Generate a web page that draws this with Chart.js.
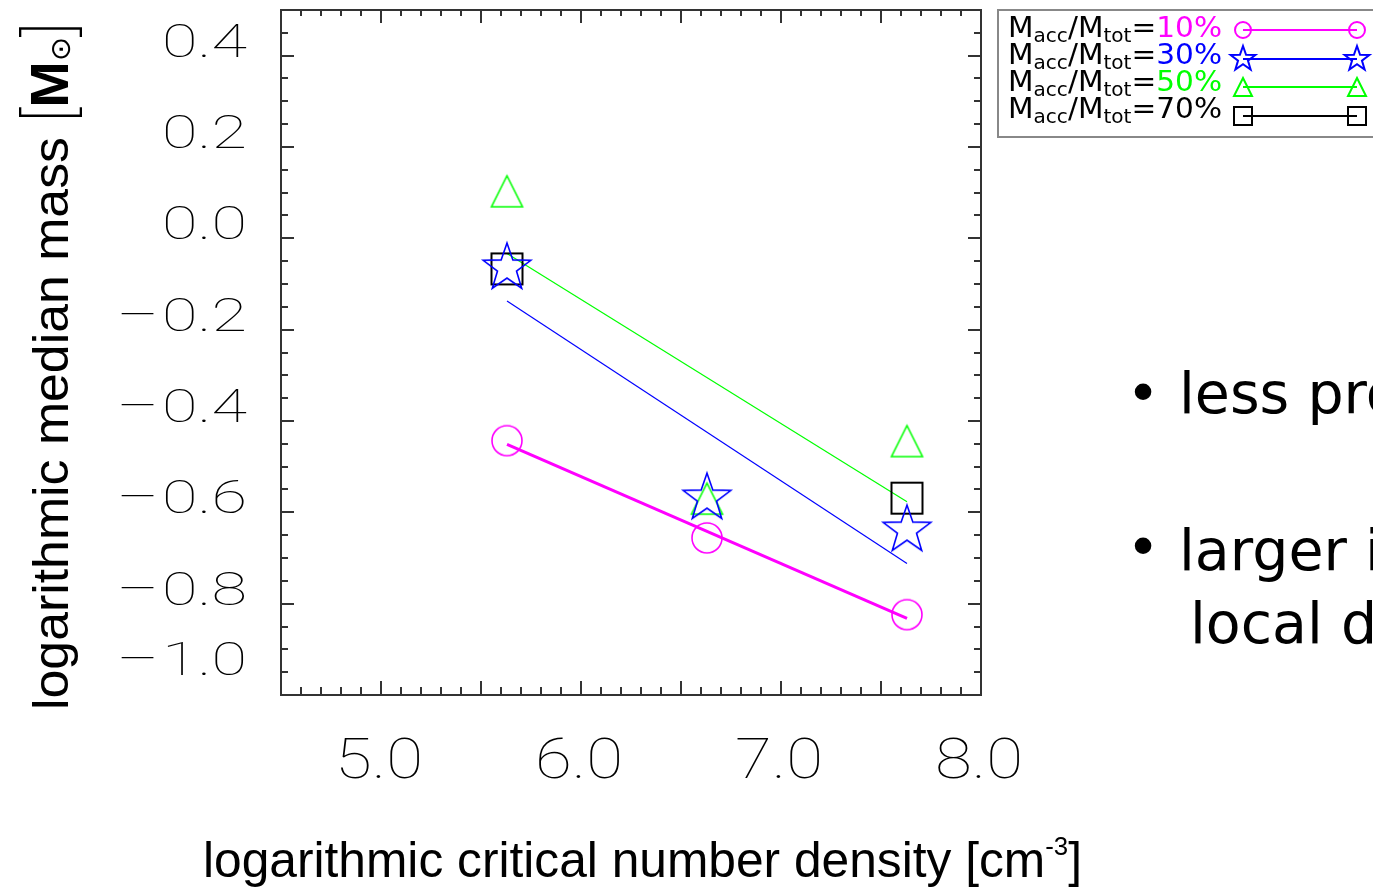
<!DOCTYPE html>
<html>
<head>
<meta charset="utf-8">
<script src="https://cdn.jsdelivr.net/npm/chart.js@4.4.1/dist/chart.umd.min.js"></script>
<style>
  html, body { margin: 0; padding: 0; background: #fff; overflow: hidden; }
  #chart { display: block; }
</style>
</head>
<body>
<canvas id="chart" width="1373" height="889"></canvas>
<script>
// log critical density of each run
var densities = [5.63, 6.63, 7.63];

// log median mass per accretion fraction
var mass10 = [-0.443, -0.656, -0.824];
var mass30 = [-0.065, -0.569, -0.639];
var mass50 = [0.103, -0.570, -0.444];
var mass70 = [-0.067, null, -0.569];

// straight-line fits, start and end
var fitX = [5.63, 7.63];
var fit10 = [-0.451, -0.832];
var fit30 = [-0.137, -0.712];
var fit50 = [-0.033, -0.577];

var fractions = ['10%', '30%', '50%', '70%'];
var colors = ['#ff00ff', '#0000ff', '#00ff00', '#000000'];

var xTicks = [5.0, 6.0, 7.0, 8.0];
var xTickLabels = ['5.0', '6.0', '7.0', '8.0'];
var yTicks = [0.4, 0.2, 0.0, -0.2, -0.4, -0.6, -0.8, -1.0];
var yTickLabels = ['0.4', '0.2', '0.0', '0.2', '0.4', '0.6', '0.8', '1.0'];

var thinFont = '"Roboto", "DejaVu Sans", sans-serif';
var titleFont = '"Liberation Sans", Arial, sans-serif';

function sprite(shape, color, r, lw) {
    var pad = Math.ceil(lw) + 2;
    var m = r + pad;
    var c = document.createElement('canvas');
    c.width = c.height = 2 * m;
    var g = c.getContext('2d');
    g.strokeStyle = color;
    g.lineWidth = lw;
    g.beginPath();
    if (shape == 'circle') {
        g.arc(m, m, r, 0, Math.PI * 2);
    } else if (shape == 'square') {
        g.rect(m - r, m - r, 2 * r, 2 * r);
    } else if (shape == 'triangle') {
        g.moveTo(m, m - r);
        g.lineTo(m + r, m + r);
        g.lineTo(m - r, m + r);
        g.closePath();
    } else if (shape == 'star') {
        for (var i = 0; i < 10; i++) {
            var a = -Math.PI / 2 + i * Math.PI / 5;
            var rr = i % 2 ? r * 0.4 : r;
            if (i == 0) g.moveTo(m + rr * Math.cos(a), m + rr * Math.sin(a));
            else g.lineTo(m + rr * Math.cos(a), m + rr * Math.sin(a));
        }
        g.closePath();
    }
    g.stroke();
    return c;
}

var shapes = ['circle', 'star', 'triangle', 'square'];
var bigR = { circle: 15, star: 25, triangle: 15.5, square: 15.5 };
var smallR = { circle: 8, star: 13, triangle: 9, square: 9 };
var bigMarks = shapes.map((s, i) => sprite(s, colors[i], bigR[s], s == 'square' ? 2 : 1.6));
var smallMarks = shapes.map((s, i) => sprite(s, colors[i], smallR[s], 2));

function pts(xs, ys) {
    return xs.map((x, i) => ({ x: x, y: ys[i] })).filter(p => p.y !== null);
}

function markerSet(ys, k) {
    return {
        data: pts(densities, ys),
        pointStyle: bigMarks[k],
        pointRadius: 5,
        showLine: false
    };
}

function fitSet(ys, k, w) {
    return {
        data: pts(fitX, ys),
        showLine: true,
        borderColor: colors[k],
        borderWidth: w,
        pointRadius: 0
    };
}

// draws a run of differently styled text pieces, squeezed to a given width
function drawRuns(ctx, runs, width) {
    var total = 0;
    runs.forEach(r => { ctx.font = r.font; r.w = ctx.measureText(r.t).width; total += r.w; });
    var s = width ? width / total : 1;
    ctx.save();
    ctx.scale(s, 1);
    var cx = 0;
    runs.forEach(r => {
        ctx.font = r.font;
        ctx.fillStyle = r.color || '#000';
        ctx.fillText(r.t, cx, r.dy || 0);
        cx += r.w;
    });
    ctx.restore();
}

var slideDecor = {
    id: 'slideDecor',
    beforeDatasetsDraw(chart) {
        var ctx = chart.ctx, a = chart.chartArea;
        var xs = chart.scales.x, ys = chart.scales.y;
        ctx.save();
        ctx.strokeStyle = '#333';
        ctx.lineWidth = 2;
        ctx.strokeRect(a.left, a.top, a.right - a.left, a.bottom - a.top);
        ctx.beginPath();
        // x ticks every 0.1, major every 0.5, top and bottom
        for (var i = 45; i <= 80; i++) {
            var px = Math.round(xs.getPixelForValue(i / 10));
            var len = i % 5 == 0 ? 14 : 8;
            ctx.moveTo(px, a.bottom); ctx.lineTo(px, a.bottom - len);
            ctx.moveTo(px, a.top); ctx.lineTo(px, a.top + (i % 5 == 0 ? 13 : 6));
        }
        // y ticks every 0.05, major every 0.2
        for (var j = -20; j <= 10; j++) {
            var py = Math.round(ys.getPixelForValue(j / 20));
            var l2 = (j + 20) % 4 == 0 ? 13 : 7;
            ctx.moveTo(a.left, py); ctx.lineTo(a.left + l2, py);
            ctx.moveTo(a.right, py); ctx.lineTo(a.right - l2, py);
        }
        ctx.stroke();
        ctx.restore();
    },
    afterDraw(chart) {
        var ctx = chart.ctx, a = chart.chartArea;
        var xs = chart.scales.x, ys = chart.scales.y;
        ctx.save();
        ctx.fillStyle = '#000';
        ctx.textBaseline = 'alphabetic';

        // y tick labels, wide vector-style digits, detached minus sign
        ctx.font = '100 47px ' + thinFont;
        yTicks.forEach((v, i) => {
            var py = Math.min(ys.getPixelForValue(v) + 1, a.bottom - 20);
            ctx.save();
            ctx.translate(247, py);
            ctx.scale(1.38, 1);
            ctx.textAlign = 'right';
            ctx.fillText(yTickLabels[i], 0, 0);
            if (v < 0) ctx.fillText('\u2013', -64, 0);
            ctx.restore();
        });

        // x tick labels
        ctx.font = '100 56px ' + thinFont;
        ctx.textAlign = 'center';
        xTicks.forEach((v, i) => {
            ctx.save();
            ctx.translate(xs.getPixelForValue(v) - 2, 778);
            ctx.scale(1.2, 1);
            ctx.fillText(xTickLabels[i], 0, 0);
            ctx.restore();
        });
        ctx.textAlign = 'left';

        // axis titles
        ctx.save();
        ctx.translate(203, 877);
        drawRuns(ctx, [
            { t: 'logarithmic critical number density [cm', font: '50px ' + titleFont },
            { t: '-3', font: '26px ' + titleFont, dy: -22 },
            { t: ']', font: '50px ' + titleFont }
        ], 879);
        ctx.restore();

        ctx.save();
        ctx.translate(68, 710);
        ctx.rotate(-Math.PI / 2);
        drawRuns(ctx, [
            { t: 'logarithmic median mass ', font: '50px ' + titleFont },
            { t: '[', font: '200 64px ' + thinFont, dy: 4 },
            { t: 'M', font: 'bold 54px ' + titleFont },
            { t: '\u2299', font: '28px "DejaVu Sans"', dy: 2 },
            { t: ']', font: '200 64px ' + thinFont, dy: 4 }
        ], 688);
        ctx.restore();

        // legend box
        ctx.strokeStyle = '#888';
        ctx.lineWidth = 2;
        ctx.strokeRect(998, 10, 400, 127);
        var rowY = [37, 64, 91, 118];
        var markY = [30, 59, 87, 116];
        var sub = '19px "DejaVu Sans"', big = '28px "DejaVu Sans"';
        fractions.forEach((f, k) => {
            ctx.save();
            ctx.translate(1008, rowY[k]);
            drawRuns(ctx, [
                { t: 'M', font: big },
                { t: 'acc', font: sub, dy: 5 },
                { t: '/M', font: big },
                { t: 'tot', font: sub, dy: 5 },
                { t: '=', font: big },
                { t: f, font: big, color: colors[k] }
            ], 214);
            ctx.restore();
            ctx.strokeStyle = colors[k];
            ctx.lineWidth = 2;
            ctx.beginPath();
            ctx.moveTo(1243, markY[k]);
            ctx.lineTo(1357, markY[k]);
            ctx.stroke();
            var m = smallMarks[k];
            ctx.drawImage(m, 1243 - m.width / 2, markY[k] - m.height / 2);
            ctx.drawImage(m, 1357 - m.width / 2, markY[k] - m.height / 2);
        });

        // slide bullets beside the plot
        ctx.font = '57px "DejaVu Sans"';
        ctx.fillStyle = '#000';
        ctx.textAlign = 'center';
        ctx.fillText('\u2022', 1143, 413);
        ctx.fillText('\u2022', 1143, 567);
        ctx.textAlign = 'left';
        ctx.fillText('less pro', 1179, 413);
        ctx.fillText('larger i', 1179, 570);
        ctx.fillText('local d', 1190, 643);
        ctx.restore();
    }
};

var ctx = document.getElementById('chart').getContext('2d');
var chart = new Chart(ctx, {
    type: 'scatter',
    data: {
        datasets: [
            markerSet(mass10, 0),
            markerSet(mass30, 1),
            markerSet(mass50, 2),
            markerSet(mass70, 3),
            fitSet(fit10, 0, 3),
            fitSet(fit30, 1, 1.2),
            fitSet(fit50, 2, 1.2)
        ]
    },
    options: {
        responsive: false,
        animation: false,
        devicePixelRatio: 1,
        layout: { padding: { left: 281, top: 10, right: 392, bottom: 194 } },
        scales: {
            x: { type: 'linear', min: 4.5, max: 8.0, display: false },
            y: { type: 'linear', min: -1.0, max: 0.5, display: false }
        },
        plugins: {
            legend: { display: false },
            tooltip: { enabled: false }
        }
    },
    plugins: [slideDecor]
});
</script>
</body>
</html>
